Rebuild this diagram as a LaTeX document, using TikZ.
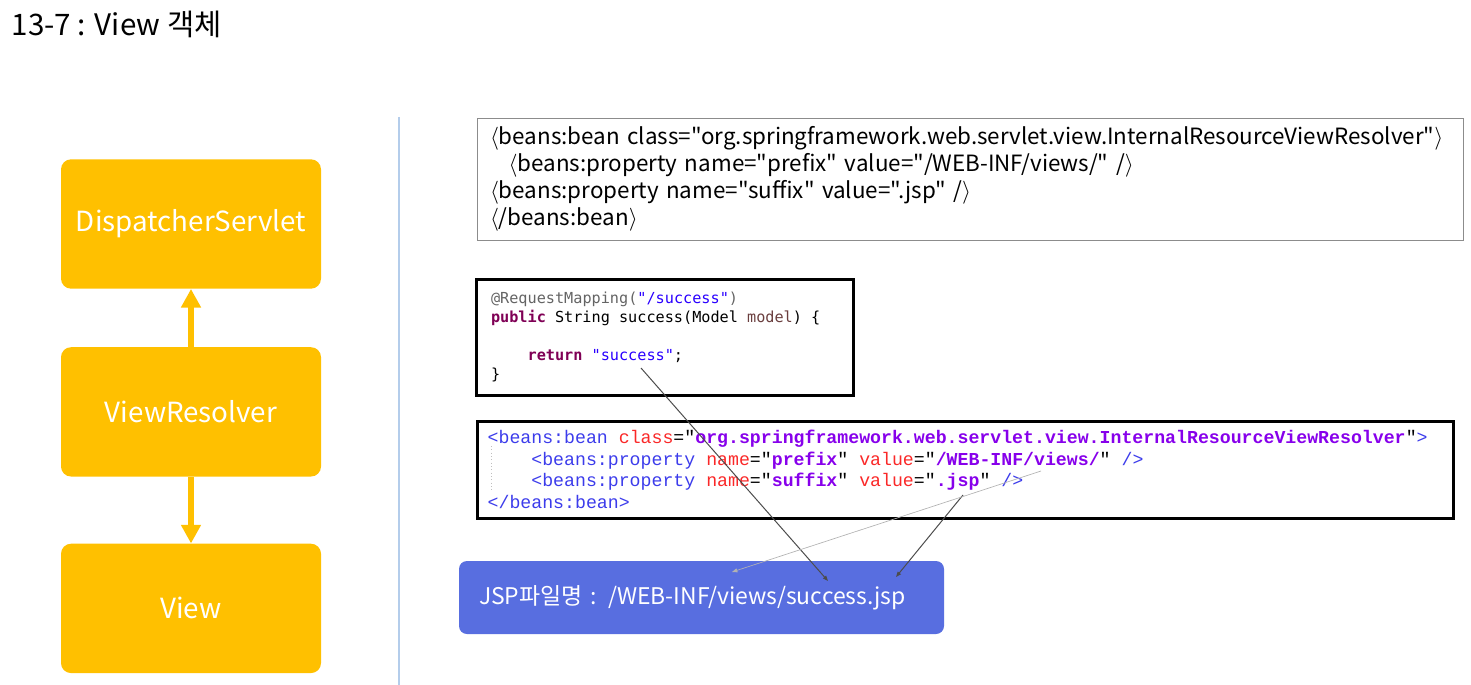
\documentclass[tikz,border=0pt]{standalone}
\usepackage{fontspec}
\setmainfont{Noto Sans CJK KR}
\setmonofont{Liberation Mono}
\newfontfamily\javafont{DejaVu Sans Mono}
\newfontfamily\slimfont{Noto Sans CJK KR}
\usetikzlibrary{arrows.meta,positioning}
\usepackage{xcolor}
\definecolor{cYellow}{RGB}{255,192,0}
\definecolor{cJsp}{RGB}{88,110,224}
\definecolor{cRule}{RGB}{180,205,235}
\definecolor{cTag}{RGB}{60,60,235}
\definecolor{cAttr}{RGB}{250,40,40}
\definecolor{cVal}{RGB}{135,0,235}
\definecolor{cKey}{RGB}{127,0,85}
\definecolor{cStr}{RGB}{42,0,255}
\definecolor{cAnno}{RGB}{100,100,100}
\definecolor{cLocal}{RGB}{106,62,62}
\newcommand{\ltag}{$\langle$}
\newcommand{\rtag}{$\rangle$}
\newcommand{\monospc}{\spaceskip=0.6em\relax}
\tikzset{
  basebox/.style={rectangle,align=left,inner sep=0pt},
  ybox/.style={rectangle,rounded corners=7.5pt,fill=cYellow,text=white,
               minimum width=195pt,minimum height=97pt,
               font=\fontsize{20.8}{25}\selectfont},
  xmlbox/.style={basebox,draw=black!45,line width=0.7pt,
                 inner xsep=9.75pt,text width=720pt,minimum height=91.5pt,
                 font=\slimfont\fontsize{16.8}{20.25}\selectfont},
  codebox/.style={basebox,draw=black,line width=2.25pt},
  jspbox/.style={rectangle,rounded corners=6pt,fill=cJsp,text=white,
                 align=left,inner xsep=15pt,text width=333.75pt,
                 minimum height=54.75pt,
                 font=\fontsize{17.2}{20}\selectfont},
  yarr/.style={-{Triangle[width=14.25pt,length=14pt]},line width=4.5pt,
               draw=cYellow},
  lnarr/.style={-{Triangle[width=3pt,length=4pt]},line width=0.75pt,
                draw=black!70},
  ltarr/.style={lnarr,draw=black!30,line width=0.5pt},
  divider/.style={draw=cRule,line width=1.5pt},
  guide/.style={draw=black!25,line width=0.5pt,dotted}
}
\begin{document}
\begin{tikzpicture}[x=0.75pt,y=-0.75pt]
  \useasboundingbox (0,0) rectangle (1471,685);

  \node[anchor=base west,font=\fontsize{22.2}{27}\selectfont] (title) at (7,36)
      {13-7 : View 객체};

  % left column
  \node[ybox] (disp) at (191,224) {DispatcherServlet};
  \node[ybox,below=43.5pt of disp] (resolver) {ViewResolver};
  \node[ybox,below=50pt of resolver] (view) {View};

  \draw[yarr] (resolver) -- (disp);
  \draw[yarr] (resolver) -- (view);

  \draw[divider] (399,117) -- (399,685);

  % xml config text
  \node[xmlbox] (cfg) at (970,179)
      {\ltag beans:bean class="org.springframework.web.servlet.view.InternalResourceViewResolver"\rtag\\
       \hspace*{14pt}\ltag beans:property name="prefix" value="/WEB-INF/views/" /\rtag\\
       \ltag beans:property name="suffix" value=".jsp" /\rtag\\
       \ltag/beans:bean\rtag};

  % controller code
  \node[codebox,inner xsep=11.25pt,text width=260.25pt,minimum height=87pt,
        font=\javafont\fontsize{11.4}{14.25}\selectfont] (ctrl) at (664.5,337)
      {\monospc{\color{cAnno}@RequestMapping(}{\color{cStr}"/success"}{\color{cAnno})}\\
       {\color{cKey}\bfseries public} String success(Model {\color{cLocal}model}) \{\\
       \mbox{}\\
       \phantom{xxxx}{\color{cKey}\bfseries return} {\color{cStr}"success"};\\
       \}};

  % view resolver bean
  \node[codebox,inner xsep=8pt,text width=716pt,minimum height=72.75pt,
        font=\ttfamily\fontsize{13.66}{16.25}\selectfont] (bean) at (965,469.5)
      {\monospc{\color{cTag}<beans:bean} {\color{cAttr}class}="{\color{cVal}\bfseries org.springframework.web.servlet.view.InternalResourceViewResolver}"{\color{cTag}>}\\
       \phantom{xxxx}{\color{cTag}<beans:property} {\color{cAttr}name}="{\color{cVal}\bfseries prefix}" {\color{cAttr}value}="{\color{cVal}\bfseries /WEB-INF/views/}" {\color{cTag}/>}\\
       \phantom{xxxx}{\color{cTag}<beans:property} {\color{cAttr}name}="{\color{cVal}\bfseries suffix}" {\color{cAttr}value}="{\color{cVal}\bfseries .jsp}" {\color{cTag}/>}\\
       {\color{cTag}</beans:bean>}};
  \draw[guide] (491,446) -- (491,491);

  \node[jspbox] (jsp) at (701.5,597.5) {JSP파일명 : /WEB-INF/views/success.jsp};

  % pointers into the file name
  \coordinate (retval) at (641,368);
  \coordinate (sufend) at (1041,471);
  \coordinate (jspval) at (963,495);
  \coordinate (tipname) at (828,581);
  \coordinate (tippre) at (732,572);
  \coordinate (tipext) at (896,577);

  \foreach \f/\t in {retval/tipname,jspval/tipext}
    \draw[lnarr] (\f) -- (\t);
  \draw[ltarr] (sufend) -- (tippre);

\end{tikzpicture}
\end{document}
